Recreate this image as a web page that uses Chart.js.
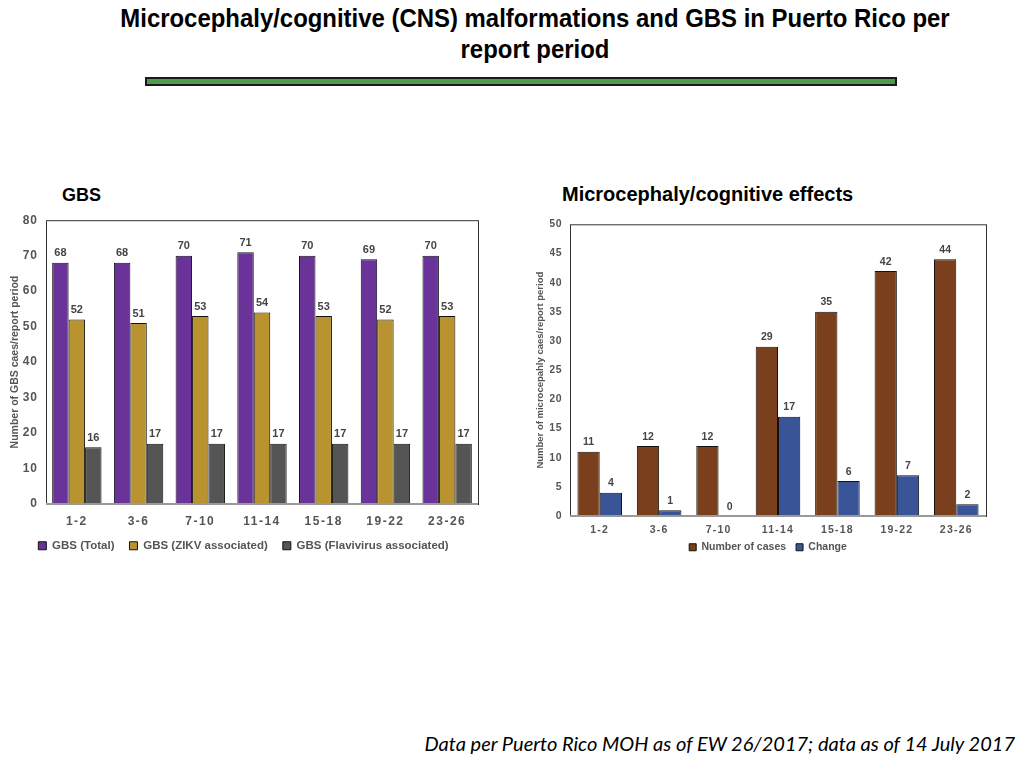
<!DOCTYPE html>
<html>
<head>
<meta charset="utf-8">
<script src="https://cdn.jsdelivr.net/npm/chart.js@4.4.1/dist/chart.umd.min.js"></script>
<style>
    body { margin: 0; width: 1024px; height: 768px; background: #fff; position: relative; overflow: hidden; font-family: "Liberation Sans", Arial, sans-serif; }
    #title { position: absolute; left: 0; width: 1070px; top: 3px; text-align: center; font-weight: bold; font-size: 26px; line-height: 31px; color: #000; transform: scaleX(0.92); transform-origin: 535px 0; }
    #greenBar { position: absolute; left: 145px; top: 77px; width: 748px; height: 5px; background: #4f9a4d; border: 2px solid #1a1a1a; }
    .sub { position: absolute; top: 185px; font-weight: bold; font-size: 18px; color: #000; }
    #footer { position: absolute; right: 9px; top: 731px; font-family: "Lato", sans-serif; font-style: italic; font-size: 20px; color: #000; }
    .box { position: absolute; }
</style>
</head>
<body>
<div id="title">Microcephaly/cognitive (CNS) malformations and GBS in Puerto Rico per<br>report period</div>
<div id="greenBar"></div>
<div class="sub" style="left:62px">GBS</div>
<div class="sub" style="left:562px; font-size:20px; top:183px">Microcephaly/cognitive effects</div>
<div class="box" style="left:0px; top:205px; width:500px; height:348px;"><canvas id="gbsChart"></canvas></div>
<div class="box" style="left:520px; top:210px; width:504px; height:344px;"><canvas id="microChart"></canvas></div>
<div id="footer">Data per Puerto Rico MOH as of EW 26/2017; data as of 14 July 2017</div>

<script>
// report periods (epi weeks)
const periods = ['1-2', '3-6', '7-10', '11-14', '15-18', '19-22', '23-26'];

// GBS series
const gbsTotal = [68, 68, 70, 71, 70, 69, 70];
const gbsZikv = [52, 51, 53, 54, 53, 52, 53];
const gbsFlavi = [16, 17, 17, 17, 17, 17, 17];

// Microcephaly series
const microCases = [11, 12, 12, 29, 35, 42, 44];
const microChange = [4, 1, 0, 17, 6, 7, 2];

const labelGray = '#555555';
const fontFam = '"Liberation Sans", Arial, sans-serif';

// the source slides use letter-spaced tick labels
class SpacedCategoryScale extends Chart.CategoryScale {
    drawLabels(area) {
        this.ctx.save();
        this.ctx.letterSpacing = this.options.labelSpacing || '0px';
        super.drawLabels(area);
        this.ctx.restore();
    }
    // axis box is kept tight, so don't clip the labels to it
    _computeLabelArea() {
        return undefined;
    }
}
SpacedCategoryScale.id = 'spacedCategory';

class SpacedLinearScale extends Chart.LinearScale {
    drawLabels(area) {
        this.ctx.save();
        this.ctx.letterSpacing = this.options.labelSpacing || '0px';
        super.drawLabels(area);
        this.ctx.restore();
    }
}
SpacedLinearScale.id = 'spacedLinear';

Chart.register(SpacedCategoryScale, SpacedLinearScale);

// writes the value over each bar
const valueLabels = {
    id: 'valueLabels',
    afterDatasetsDraw(chart, args, opts) {
        const ctx = chart.ctx;
        ctx.save();
        ctx.font = 'bold ' + opts.size + 'px ' + fontFam;
        ctx.fillStyle = '#444';
        ctx.textAlign = 'center';
        ctx.textBaseline = 'bottom';
        chart.data.datasets.forEach((ds, i) => {
            const meta = chart.getDatasetMeta(i);
            meta.data.forEach((bar, j) => {
                ctx.fillText(ds.data[j], bar.x, bar.y - opts.gap);
            });
        });
        ctx.restore();
    }
};

// box around the plot area
const plotFrame = {
    id: 'plotFrame',
    afterDraw(chart) {
        const a = chart.chartArea;
        const ctx = chart.ctx;
        ctx.save();
        ctx.strokeStyle = '#333';
        ctx.lineWidth = 1;
        ctx.strokeRect(a.left + 0.5, a.top + 0.5, a.right - a.left, a.bottom - a.top);
        ctx.strokeStyle = '#999';
        ctx.lineWidth = 2;
        ctx.beginPath();
        ctx.moveTo(a.left, a.bottom);
        ctx.lineTo(a.right, a.bottom);
        ctx.stroke();
        ctx.restore();
    }
};

function barSet(label, data, color, catPct) {
    return {
        label: label,
        data: data,
        backgroundColor: color,
        borderColor: '#111',
        borderWidth: 1,
        borderSkipped: 'bottom',
        categoryPercentage: catPct,
        barPercentage: 1.0
    };
}

function makeOptions(cfg) {
    return {
        responsive: true,
        maintainAspectRatio: false,
        animation: false,
        layout: { padding: cfg.padding },
        plugins: {
            legend: {
                position: 'bottom',
                maxHeight: cfg.legendHeight,
                labels: {
                    boxWidth: cfg.box,
                    boxHeight: cfg.box,
                    padding: cfg.legendPad,
                    color: labelGray,
                    font: { size: cfg.legendSize, weight: 'bold', family: fontFam }
                }
            },
            tooltip: { enabled: false },
            valueLabels: { size: cfg.valueSize, gap: 4 }
        },
        scales: {
            x: {
                type: 'spacedCategory',
                labelSpacing: cfg.xSpacing,
                afterFit(scale) { scale.height = cfg.xHeight; },
                grid: { display: false, drawTicks: false },
                border: { display: false },
                ticks: { color: labelGray, padding: cfg.xPad, font: { size: cfg.tickSize, weight: 'bold', family: fontFam } }
            },
            y: {
                type: 'spacedLinear',
                labelSpacing: cfg.ySpacing,
                min: 0,
                max: cfg.max,
                afterFit(scale) { scale.width = cfg.yWidth; },
                ticks: { stepSize: cfg.step, color: labelGray, padding: 8, font: { size: cfg.tickSize, weight: 'bold', family: fontFam } },
                grid: { display: false, drawTicks: false },
                border: { display: false },
                title: {
                    display: true,
                    text: cfg.yTitle,
                    color: labelGray,
                    padding: { top: cfg.titlePad, bottom: 2 },
                    font: { size: cfg.titleSize, weight: 'bold', family: fontFam }
                }
            }
        }
    };
}

new Chart(document.getElementById('gbsChart'), {
    type: 'bar',
    data: {
        labels: periods,
        datasets: [
            barSet('GBS (Total)', gbsTotal, '#6a3399', 0.8),
            barSet('GBS (ZIKV associated)', gbsZikv, '#b8932f', 0.8),
            barSet('GBS (Flavivirus associated)', gbsFlavi, '#555555', 0.8)
        ]
    },
    options: makeOptions({
        padding: { left: 9, right: 22, top: 11, bottom: 0 },
        max: 80, step: 10, yWidth: 37, titlePad: 0, xPad: 10, xHeight: 21,
        xSpacing: '1.5px', ySpacing: '1px',
        yTitle: 'Number of GBS caes/report period',
        tickSize: 12, titleSize: 10.5, legendSize: 11.5, valueSize: 11,
        box: 8, legendPad: 15, legendHeight: 28
    }),
    plugins: [valueLabels, plotFrame]
});

new Chart(document.getElementById('microChart'), {
    type: 'bar',
    data: {
        labels: periods,
        datasets: [
            barSet('Number of cases', microCases, '#7a3f1c', 0.75),
            barSet('Change', microChange, '#3a5597', 0.75)
        ]
    },
    options: makeOptions({
        padding: { left: 30, right: 38, top: 11, bottom: 0 },
        max: 50, step: 5, yWidth: 20, titlePad: -15, xPad: 8, xHeight: 16,
        xSpacing: '1.2px', ySpacing: '0.5px',
        yTitle: 'Number of microcepahly caes/report period',
        tickSize: 10.5, titleSize: 9.5, legendSize: 10.5, valueSize: 10.5,
        box: 7, legendPad: 10, legendHeight: 22
    }),
    plugins: [valueLabels, plotFrame]
});
</script>
</body>
</html>
